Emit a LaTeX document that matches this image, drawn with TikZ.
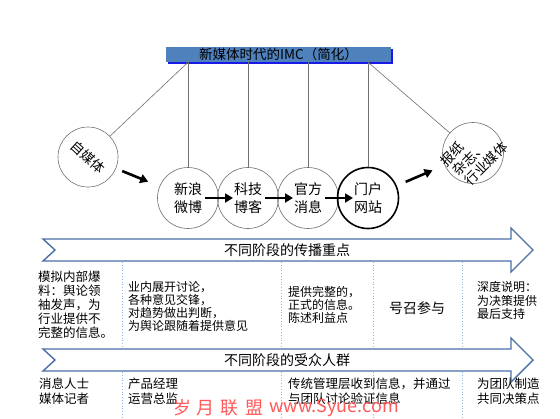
\documentclass[tikz,border=0pt]{standalone}
\usepackage{fontspec}
\setmainfont{Noto Sans CJK SC}
\usetikzlibrary{arrows.meta,calc}
\definecolor{titlefill}{HTML}{4F81BD}
\definecolor{titleshadow}{HTML}{1A1AE6}
\definecolor{bandline}{HTML}{4A6FA5}
\definecolor{sepline}{HTML}{8EB4E3}
\definecolor{circline}{HTML}{707070}
\tikzset{
  stage/.style={circle,draw=circline,line width=0.6pt,minimum size=61pt,inner sep=0pt,align=center,font=\fontsize{14}{18}\selectfont},
  keystage/.style={stage,draw=black,line width=1.6pt},
  hang/.style={draw=circline,line width=0.6pt},
  flow/.style={draw=black,line width=2.6pt,-{Triangle[length=8pt,width=9pt]}},
  band/.style={draw=bandline,line width=1.4pt,fill=white,line join=miter},
  bandlabel/.style={inner sep=0pt,font=\fontsize{14}{16}\selectfont},
  sep/.style={draw=sepline,line width=0.8pt,dotted},
  cell/.style={anchor=north west,inner sep=0pt,align=left},
  wmark/.style={text=red!65,inner sep=0pt,font=\fontsize{18}{20}\selectfont}
}
\begin{document}
\begin{tikzpicture}[x=1pt,y=-1pt]
\useasboundingbox (0,0) rectangle (560,418);
\fill[white] (0,0) rectangle (560,418);

% title
\fill[titleshadow] (168,49) rectangle (393,64);
\node[fill=titlefill,minimum width=225pt,minimum height=15pt,inner sep=0pt,font=\fontsize{13.5}{15}\selectfont] (title) at (278.5,54.5) {新媒体时代的IMC（简化）};

% stages
\node[stage,minimum size=60pt] (zmt) at (88,157) {};
\node[rotate=-42,inner sep=0pt,font=\fontsize{13.5}{15}\selectfont] (zmtlabel) at (zmt.center) {自媒体};
\node[stage] (weibo) at (188,198) {新浪\\微博};
\node[stage] (keji) at (248,198) {科技\\博客};
\node[stage] (guanfang) at (308,198) {官方\\消息};
\node[keystage] (menhu) at (368,198) {门户\\网站};
\node[stage] (baozhi) at (473,153) {};
\node[rotate=45,inner sep=0pt,align=left,font=\fontsize{13.5}{15.5}\selectfont] (baozhilabel) at ($(baozhi.center)+(1,1)$) {报纸\\\hspace*{2pt}杂志、\\\hspace*{4pt}行业媒体};

% hanging lines
\draw[hang] (weibo |- title.south) -- (weibo);
\draw[hang] (weibo |- title.south) -- (zmt);
\draw[hang] (keji |- title.south) -- (keji);
\draw[hang] (guanfang |- title.south) -- (guanfang);
\draw[hang] (menhu |- title.south) -- (menhu);
\draw[hang] (menhu |- title.south) -- (baozhi);

% flow arrows
\draw[flow,shorten <=37pt,shorten >=43pt] (zmt.center) -- (weibo.center);
\draw[flow,shorten <=17pt,shorten >=15pt] (weibo.center) -- (keji.center);
\draw[flow,shorten <=17pt,shorten >=15pt] (keji.center) -- (guanfang.center);
\draw[flow,shorten <=17pt,shorten >=15pt] (guanfang.center) -- (menhu.center);
\draw[flow,shorten <=41pt,shorten >=44pt] (menhu.center) -- (baozhi.center);

% separators
\foreach \x in {122,281,373,462}{
  \draw[sep] (\x,262) -- (\x,349);
  \draw[sep] (\x,372) -- (\x,418);
}

% bands
\draw[band] (43,239) -- (511,239) -- (511,228) -- (533,250) -- (511,272) -- (511,261) -- (43,261) -- (55,250) -- cycle;
\node[bandlabel] (band1) at (287,250) {不同阶段的传播重点};
\draw[band] (43,349) -- (511,349) -- (511,338) -- (533,360) -- (511,382) -- (511,371) -- (43,371) -- (55,360) -- cycle;
\node[bandlabel] (band2) at (287,360) {不同阶段的受众人群};

% top cells
\node[cell,font=\fontsize{12.5}{14}\selectfont] (c1) at (38,271) {模拟内部爆\\料：舆论领\\袖发声，为\\行业提供不\\完整的信息。};
\node[cell,font=\fontsize{12}{13}\selectfont] (c2) at (128,281.5) {业内展开讨论，\\各种意见交锋，\\对趋势做出判断，\\为舆论跟随着提供意见};
\node[cell,font=\fontsize{12}{12.8}\selectfont] (c3) at (288,286.5) {提供完整的，\\正式的信息。\\陈述利益点};
\node[inner sep=0pt,font=\fontsize{14}{16}\selectfont] (c4) at (417,308) {号召参与};
\node[cell,font=\fontsize{12}{13.5}\selectfont] (c5) at (477,281.5) {深度说明：\\为决策提供\\最后支持};

% bottom cells
\node[cell,font=\fontsize{12.5}{15}\selectfont] (d1) at (39,377.5) {消息人士\\媒体记者};
\node[cell,font=\fontsize{12.5}{15}\selectfont] (d2) at (128,377.5) {产品经理\\运营总监};
\node[cell,font=\fontsize{12.5}{15}\selectfont] (d3) at (288,377.5) {传统管理层收到信息，并通过\\与团队讨论验证信息};
\node[cell,font=\fontsize{12.5}{15}\selectfont] (d4) at (477,377.5) {为团队制造\\共同决策点};

% watermark
\node[wmark] (wm1) at (218,408) {岁\,\,月\,\,联\,\,盟};
\node[wmark] (wm2) at (334,408) {www.Syue.com};
\end{tikzpicture}
\end{document}
